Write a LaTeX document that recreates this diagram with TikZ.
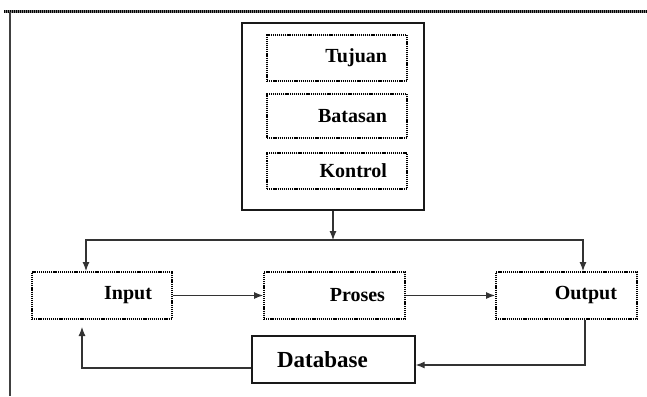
\documentclass[tikz,border=0pt]{standalone}
\usepackage{fontspec}
\setmainfont{Liberation Serif}
\usetikzlibrary{arrows.meta}
\begin{document}
\begin{tikzpicture}[x=1pt,y=-1pt,
  dotbox/.style={draw=black, line width=2pt, dash pattern=on 1.2pt off 0.9pt,
    preaction={draw=black!45, line width=2pt},
    inner xsep=20pt, inner ysep=0pt, align=right, text width=#1,
    font=\fontsize{20}{23}\selectfont\bfseries},
  solidbox/.style={draw=black!90, line width=1.4pt},
  arr/.style={draw=black!80, line width=1.1pt, -{Latex[length=9pt,width=7pt]}},
  ln/.style={draw=black!80, line width=1pt}]
\useasboundingbox (0,0) rectangle (647,396);
% frame
\draw[black!50, line width=2.6pt] (4,11.5) -- (647,11.5);
\draw[black, line width=2.6pt, dash pattern=on 1pt off 1pt] (4,11.5) -- (647,11.5);
\draw[black!75, line width=1.6pt] (10,12) -- (10,396);
% control box
\node[solidbox, minimum width=182pt, minimum height=187pt] (ctrl) at (333,116.5) {};
\node[dotbox=100pt, minimum height=46pt] (tuj) at (337,58) {Tujuan};
\node[dotbox=100pt, minimum height=44pt] (bat) at (337,116) {Batasan};
\node[dotbox=100pt, minimum height=36pt] (kon) at (337,171) {Kontrol};
% process row
\node[dotbox=100pt, minimum height=47pt] (in) at (102,295.5) {Input};
\node[dotbox=101pt, minimum height=47pt] (pro) at (334.5,295.5) {Proses};
\node[dotbox=101pt, minimum height=47pt] (out) at (566.5,295.5) {Output};
\node[solidbox, minimum width=163pt, minimum height=47pt, inner xsep=25pt, text width=113pt, align=left,
  font=\fontsize{23}{26}\selectfont\bfseries] (db) at (333.5,359.5) {Database};
% connectors
\coordinate (split) at (333,240);
\draw[arr] (ctrl.south) -- (split);
\draw[arr] (split) -| ([xshift=-16pt]in.north);
\draw[arr] (split) -| ([xshift=16.5pt]out.north);
\draw[arr] (in.east) -- (pro.west);
\draw[arr] (pro.east) -- (out.west);
\draw[arr] ([xshift=18.5pt]out.south) |- ([yshift=-5.5pt]db.east);
\draw[arr, shorten >=7pt] ([yshift=-8.5pt]db.west) -| ([xshift=-20pt]in.south);
\end{tikzpicture}
\end{document}
